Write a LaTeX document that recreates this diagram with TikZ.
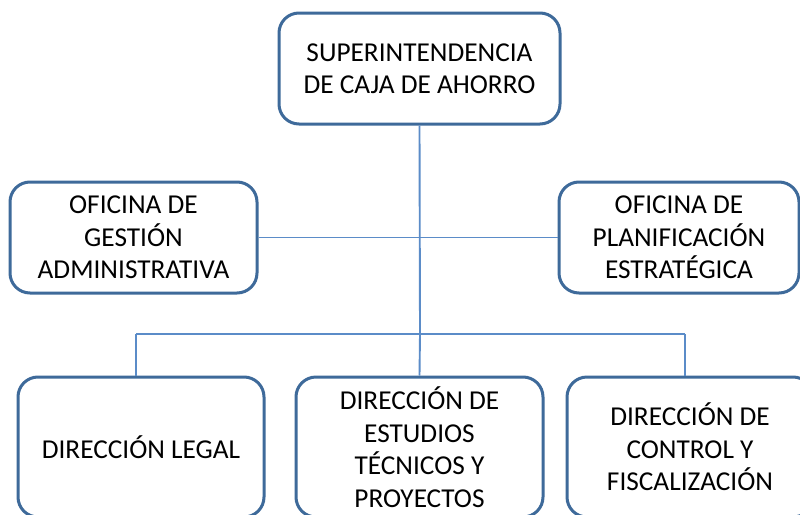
\documentclass[tikz,border=0pt]{standalone}
\usepackage{fontspec}
\setmainfont{Carlito}
\definecolor{boxline}{RGB}{62,106,154}
\definecolor{conline}{RGB}{91,140,200}
\begin{document}
\begin{tikzpicture}[x=1pt,y=-1pt,
  orgbox/.style={draw=boxline, line width=3pt, rounded corners=20pt, fill=white,
    align=center, font=\fontsize{27.3}{32.5}\selectfont, inner sep=0pt},
  conn/.style={draw=conline, line width=1.9pt}]
\useasboundingbox (0,0) rectangle (800,514);
\clip (0,0) rectangle (800,514);
\fill[white] (0,0) rectangle (800,514);
\coordinate (j) at (420,334);
\coordinate (jl) at (136,334);
\coordinate (jr) at (685,334);
\node[orgbox, minimum width=281, minimum height=111] (top) at (419.5,68.5) {SUPERINTENDENCIA\\DE CAJA DE AHORRO};
\node[orgbox, minimum width=247, minimum height=111] (left) at (133.5,237.5) {OFICINA DE\\GESTIÓN\\ADMINISTRATIVA};
\node[orgbox, minimum width=240, minimum height=111] (right) at (679,237.5) {OFICINA DE\\PLANIFICACIÓN\\ESTRATÉGICA};
\node[orgbox, minimum width=246, minimum height=140] (bl) at (141,447) {DIRECCIÓN LEGAL};
\node[orgbox, minimum width=247, minimum height=140] (bm) at (419.5,447) {DIRECCIÓN DE\\ESTUDIOS\\TÉCNICOS Y\\PROYECTOS};
\node[orgbox, minimum width=246, minimum height=140] (br) at (690,447) {DIRECCIÓN DE\\CONTROL Y\\FISCALIZACIÓN};
\draw[conn] (top.south) -- (j);
\draw[conn] (j) -- (bm.north);
\draw[conn] (left.east) -- (right.west);
\draw[conn] (jl) -- (jr);
\draw[conn] (jl) -- (jl |- bl.north);
\draw[conn] (jr) -- (jr |- br.north);
\end{tikzpicture}
\end{document}
